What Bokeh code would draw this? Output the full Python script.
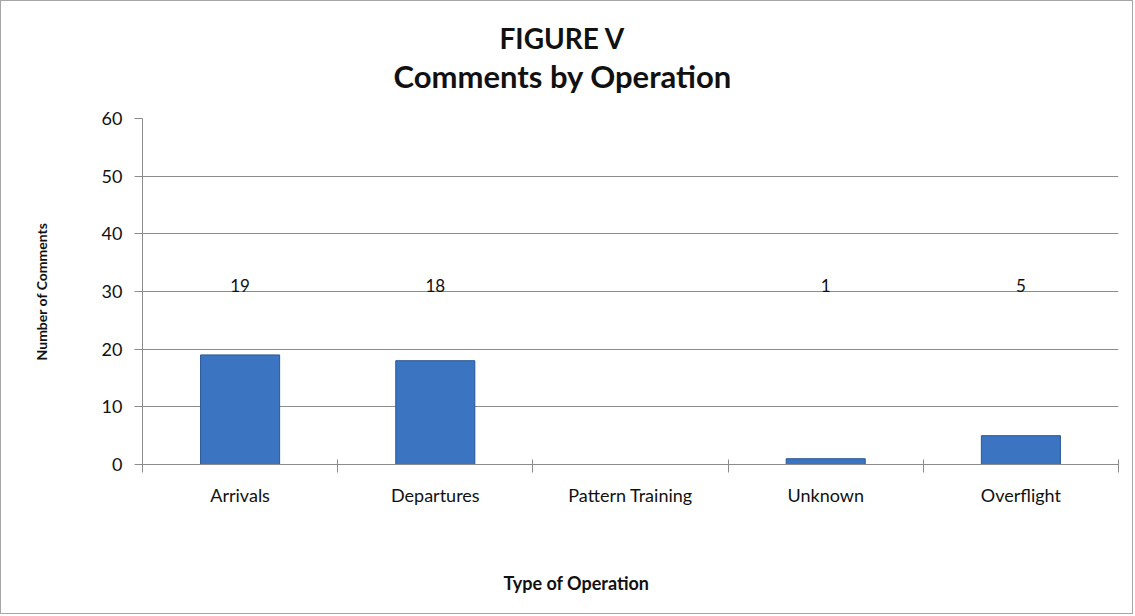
from bokeh.plotting import figure
from bokeh.models import ColumnDataSource, FixedTicker, LabelSet, Range1d, Title
from bokeh.core.properties import value
from bokeh.embed import file_html
from bokeh.resources import INLINE

# ---- data ----
categories = ["Arrivals", "Departures", "Pattern Training", "Unknown", "Overflight"]
comments = [19, 18, 0, 1, 5]
y_ticks = [0, 10, 20, 30, 40, 50, 60]
title_lines = ["FIGURE V", "Comments by Operation"]
x_title = "Type of Operation"
y_title = "Number of Comments"

FONT = "Lato"
GRID = "#8c8c8c"
TXT = "#111111"

xpos = [i + 0.5 for i in range(len(categories))]
src = ColumnDataSource(dict(x=xpos, top=comments, cat=categories))
lab_src = ColumnDataSource(dict(
    x=[x for x, v in zip(xpos, comments) if v > 0],
    y=[30 for v in comments if v > 0],
    t=[str(v) for v in comments if v > 0],
))

p = figure(width=1133, height=614, output_backend="svg", toolbar_location=None,
           x_range=Range1d(0, len(categories)), y_range=Range1d(0, 60),
           min_border_left=141, min_border_right=16, min_border_top=117,
           min_border_bottom=151)
p.styles = {"border": "1px solid #a6a6a6"}
p.outline_line_color = None
p.background_fill_color = "white"
p.border_fill_color = "white"

p.vbar(x="x", top="top", width=0.405, source=src,
       fill_color="#3b74c0", line_color="#2a5896", line_width=1)

# value labels (placed at the 30 gridline like the original)
p.add_layout(LabelSet(x="x", y="y", text="t", source=lab_src,
                      text_align="center", text_baseline="bottom",
                      y_offset=0, text_font=value(FONT), text_font_size=value("17px"),
                      text_color=TXT))

# x axis
xa = p.xaxis[0]
xa.ticker = FixedTicker(ticks=xpos, minor_ticks=list(range(len(categories) + 1)))
xa.major_label_overrides = {x: c for x, c in zip(xpos, categories)}
xa.major_tick_in = 0
xa.major_tick_out = 0
xa.minor_tick_in = 5
xa.minor_tick_out = 8
xa.minor_tick_line_color = GRID
xa.axis_line_color = GRID
xa.major_label_standoff = 11
xa.major_label_text_font = FONT
xa.major_label_text_font_size = "18px"
xa.major_label_text_color = TXT
# blank label only reserves room so the axis title sits low like the original
xa.axis_label = " "
xa.axis_label_text_font_size = "10px"
xa.axis_label_standoff = 36

# y axis
ya = p.yaxis[0]
ya.ticker = FixedTicker(ticks=y_ticks)
ya.minor_tick_line_color = None
ya.major_tick_in = 0
ya.major_tick_out = 8
ya.major_tick_line_color = GRID
ya.axis_line_color = GRID
ya.major_label_standoff = 12
ya.major_label_text_font = FONT
ya.major_label_text_font_size = "18px"
ya.major_label_text_color = TXT
ya.axis_label = y_title
ya.axis_label_text_font = FONT
ya.axis_label_text_font_size = "14px"
ya.axis_label_text_font_style = "bold"
ya.axis_label_text_color = TXT
ya.axis_label_standoff = 49

p.xgrid.grid_line_color = None
p.ygrid.grid_line_color = GRID
p.ygrid.grid_line_width = 1

# titles (a blank spacer title keeps them clear of the plot frame)
p.add_layout(Title(text=" ", standoff=10, text_font=FONT, text_font_size="10px"), "above")
p.add_layout(Title(text=title_lines[1], align="left", offset=251, standoff=0,
                   text_font=FONT, text_font_size="31px", text_font_style="bold",
                   text_color=TXT), "above")
p.add_layout(Title(text=title_lines[0], align="left", offset=357, standoff=0,
                   text_font=FONT, text_font_size="28px", text_font_style="bold",
                   text_color=TXT), "above")
p.add_layout(Title(text=x_title, align="left", offset=361, standoff=22,
                   vertical_align="bottom",
                   text_font=FONT, text_font_size="18px", text_font_style="bold",
                   text_color=TXT), "below")

open("out.html", "w").write(file_html(p, INLINE))
